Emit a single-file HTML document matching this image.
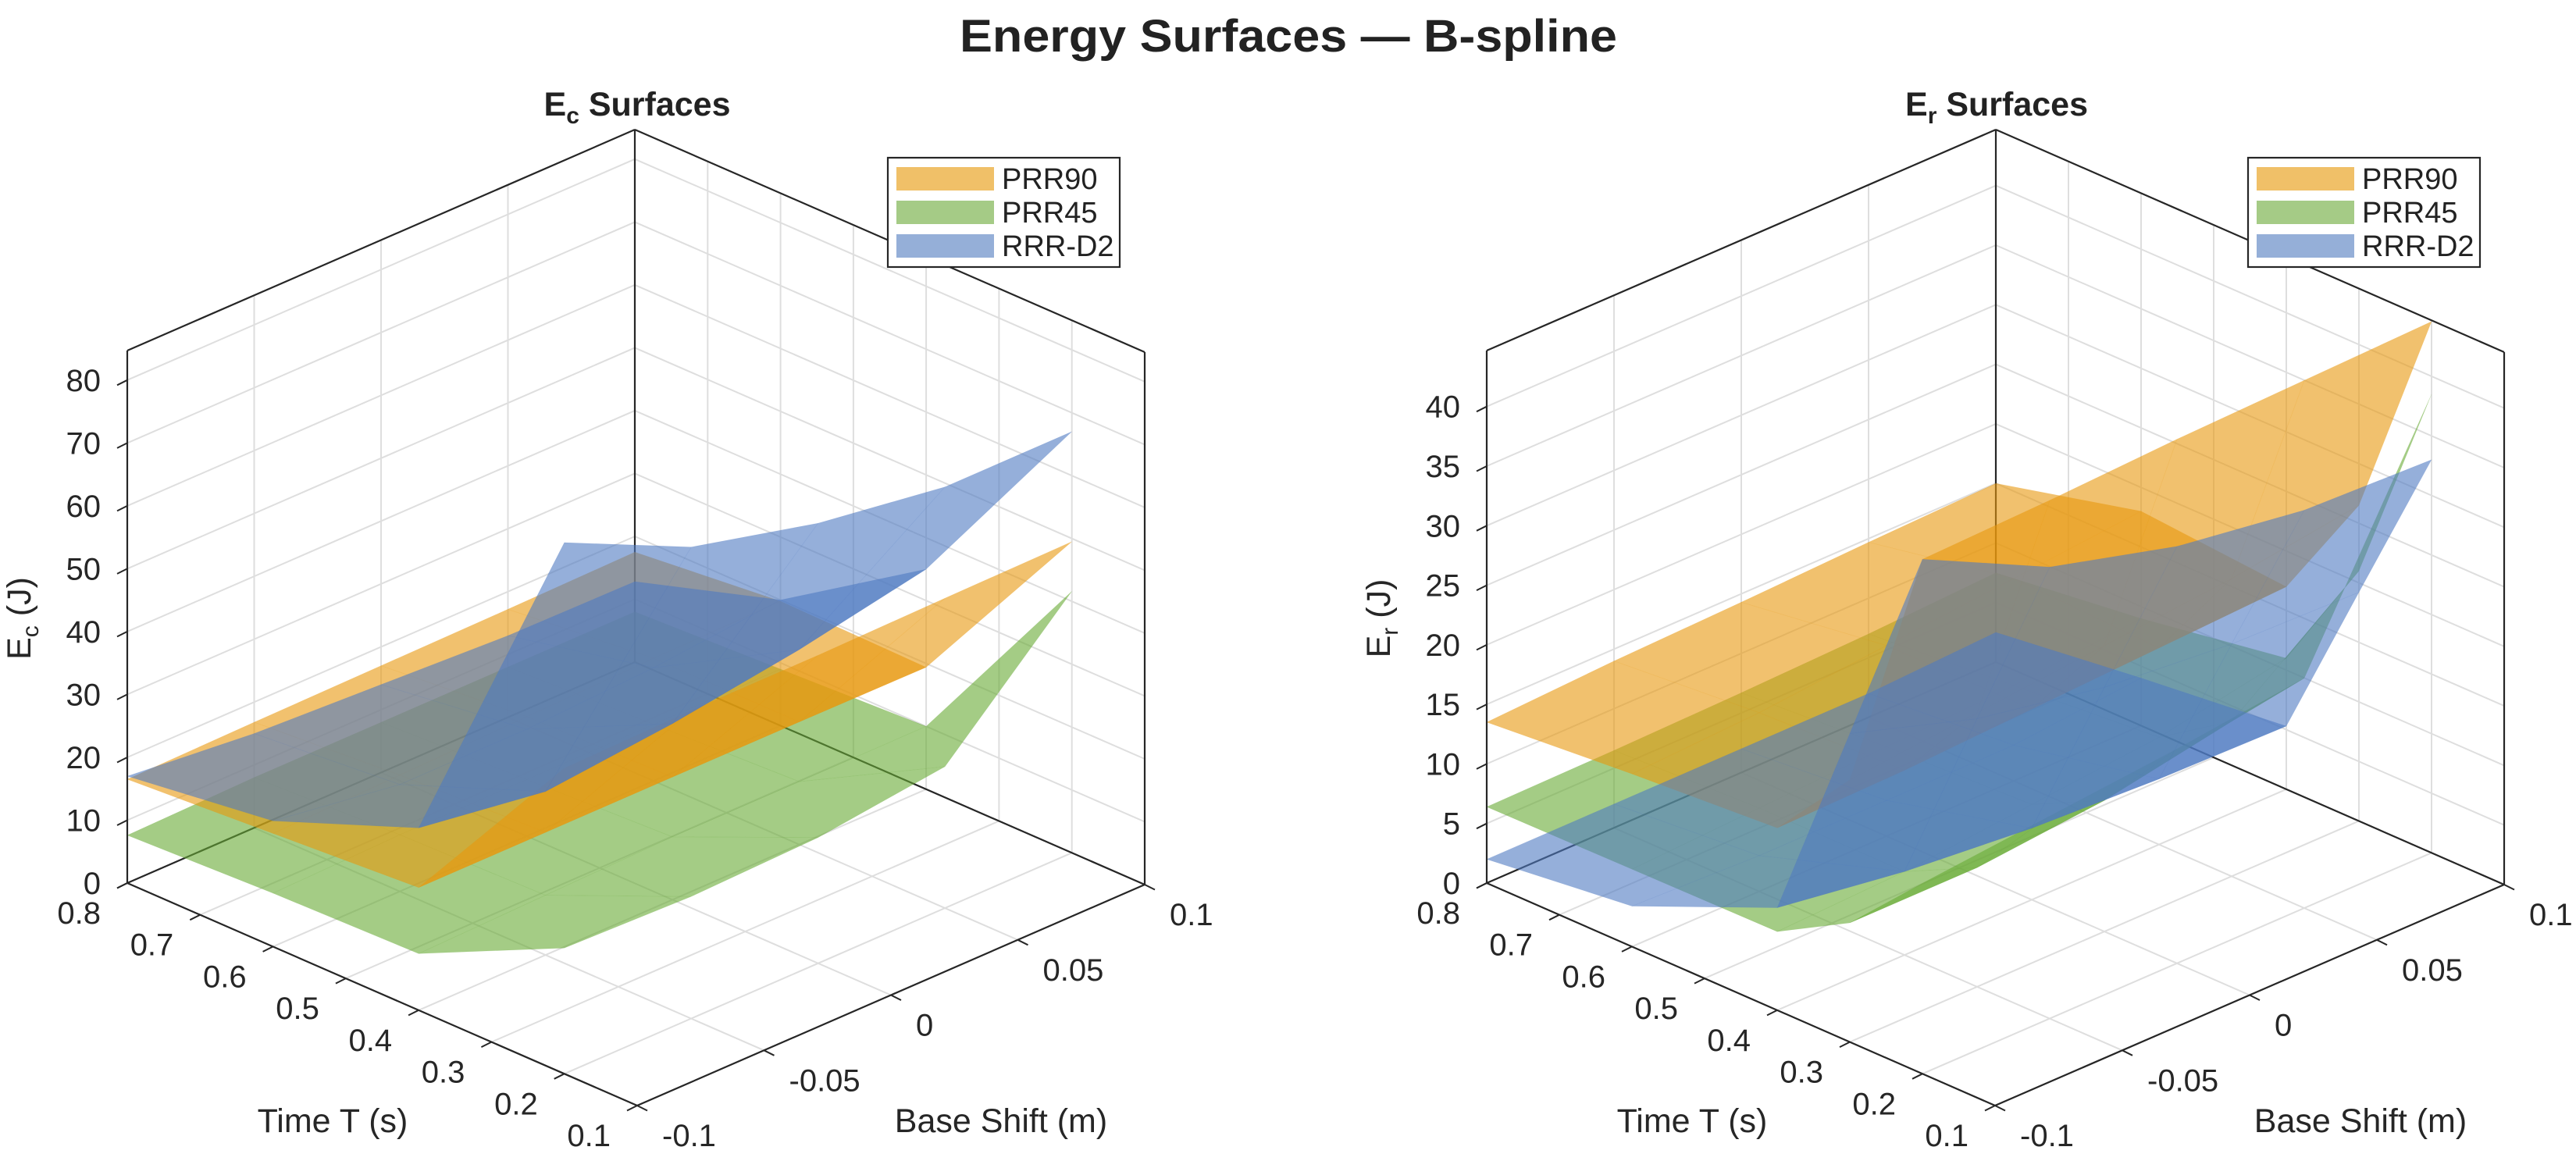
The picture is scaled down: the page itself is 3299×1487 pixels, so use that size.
<!DOCTYPE html>
<html><head><meta charset="utf-8"><style>
html,body{margin:0;padding:0;background:#fff;}
svg{display:block;font-family:"Liberation Sans",Arial,sans-serif;}
</style></head><body>
<svg id="fig" width="3299" height="1487" viewBox="0 0 3299 1487" xmlns="http://www.w3.org/2000/svg">
<rect width="3299" height="1487" fill="#fff"/>
<text x="1650" y="66" text-anchor="middle" font-size="58" font-weight="bold" fill="#222" textLength="842" lengthAdjust="spacingAndGlyphs">Energy Surfaces — B-spline</text>
<g id="plotL"></g>
<g id="plotR"></g>
</svg>
<script>
// ---- data ----
const ecTimeT = [0.8, 0.6, 0.4, 0.2];
const erTimeT = [0.8, 0.6, 0.4, 0.3, 0.2];
const shiftS = [-0.1, -0.05, 0, 0.05, 0.1];
const seriesNames = ["PRR90", "PRR45", "RRR-D2"];
const ecPRR90 = [[16.5,16.8,17,17.2,17.5],[18,18.5,19,19.5,19.8],[19.5,19.5,19.5,19.5,19.4],[48.6,49,49,49.3,49.5]];
const ecPRR45 = [[7.6,8,8,8,8],[8.5,9,9,9,9],[9,9.5,10,10,10],[20,19.4,20,22.5,41.6]];
const ecRRRD2 = [[17,15,14,13,12.8],[20,17,17,18,20],[29,26,28,31,35],[84.5,75,70,67,67]];
const erPRR90 = [[13.5,14,14.3,14.7,15],[14.5,15,16,17,18],[15.3,15.5,16,16.5,17],[22,23,24,25,26.5],[43.2,43.5,44,44.3,44.6]];
const erPRR45 = [[6.4,6.5,6.7,7,7.5],[6.5,7,7.5,8,9],[6.6,7,8,9,11],[10,10,11,13,21],[16,17,18,19.3,38.5]];
const erRRRD2 = [[2,2,2,2,2.5],[3.4,3,3,3,4],[8.6,7,6,5.5,5.3],[25.9,22.5,20.5,19.5,19.2],[43.2,37.9,35,33.4,33]];
const tTicks = [0.1,0.2,0.3,0.4,0.5,0.6,0.7,0.8];
const sTicks = [-0.1,-0.05,0,0.05,0.1];
const ecZTicks = [0,10,20,30,40,50,60,70,80];
const erZTicks = [0,5,10,15,20,25,30,35,40];

const NS = "http://www.w3.org/2000/svg";
const fills = ["rgb(232,152,14)", "rgb(104,170,52)", "rgb(78,121,193)"];
const legendFills = ["rgb(240,192,104)", "rgb(165,203,134)", "rgb(149,175,216)"];
const ALPHA = 0.6;

function mk(parent, tag, attrs) {
  const e = document.createElementNS(NS, tag);
  for (const k in attrs) e.setAttribute(k, attrs[k]);
  parent.appendChild(e);
  return e;
}

function buildPlot(g, cfg) {
  const {Lx, Ly, ux, uy, vx, vy, H, zmax} = cfg;
  const timeT = cfg.timeT;
  const uOf = T => (0.8 - T) / 0.7;
  const vOf = S => (S + 0.1) / 0.2;
  const P = (T, S, z) => {
    const u = uOf(T), v = vOf(S);
    return [Lx + ux*u + vx*v, Ly + uy*u + vy*v - z/zmax*H];
  };
  const line = (a, b, stroke, w, name) => {
    const l = mk(g, "line", {x1:a[0].toFixed(1), y1:a[1].toFixed(1), x2:b[0].toFixed(1), y2:b[1].toFixed(1), stroke:stroke, "stroke-width":w});
    
    
    return l;
  };
  const grid = "#dedede", axc = "#262626";
  tTicks.forEach(T => line(P(T,-0.1,0), P(T,0.1,0), grid, 2, 'floor-gridline-t'));
  sTicks.forEach(S => line(P(0.8,S,0), P(0.1,S,0), grid, 2, 'floor-gridline-s'));
  sTicks.forEach(S => line(P(0.8,S,0), P(0.8,S,zmax), grid, 2, 'back-wall-gridline-s'));
  cfg.zTicks.forEach(z => line(P(0.8,-0.1,z), P(0.8,0.1,z), grid, 2, 'back-wall-gridline-z'));
  tTicks.forEach(T => line(P(T,0.1,0), P(T,0.1,zmax), grid, 2, 'side-wall-gridline-t'));
  cfg.zTicks.forEach(z => line(P(0.8,0.1,z), P(0.1,0.1,z), grid, 2, 'side-wall-gridline-z'));
  line(P(0.8,-0.1,0), P(0.8,0.1,0), axc, 2.2, 'box-edge');
  line(P(0.8,0.1,0), P(0.1,0.1,0), axc, 2.2, 'box-edge');
  line(P(0.8,0.1,0), P(0.8,0.1,zmax), axc, 2.2, 'box-edge');
  line(P(0.8,-0.1,zmax), P(0.8,0.1,zmax), axc, 2.2, 'box-edge');
  line(P(0.8,0.1,zmax), P(0.1,0.1,zmax), axc, 2.2, 'box-edge');
  line(P(0.1,0.1,0), P(0.1,0.1,zmax), axc, 2.2, 'box-edge');
  cfg.order.forEach(si => {
    const Z = cfg.series[si];
    const sg = mk(g, "g", {});
    
    
    const quads = [];
    for (let i = 0; i < timeT.length - 1; i++) for (let j = 0; j < shiftS.length - 1; j++) {
      const pts = [[i,j],[i+1,j],[i+1,j+1],[i,j+1]];
      let close = 0;
      pts.forEach(([a,b]) => { close += (uOf(timeT[a]) - vOf(shiftS[b]))*571 + Z[a][b]/zmax*378; });
      quads.push({pts: pts.map(([a,b]) => P(timeT[a], shiftS[b], Z[a][b])), close: close/4});
    }
    quads.sort((a,b) => a.close - b.close);
    quads.forEach(q => {
      const p = mk(sg, "polygon", {points: q.pts.map(p => p[0].toFixed(1)+","+p[1].toFixed(1)).join(" "), fill: fills[si], "fill-opacity": ALPHA, stroke: fills[si], "stroke-opacity": 0.15, "stroke-width": 0.6});
      
      
    });
  });
  line(P(0.8,-0.1,0), P(0.1,-0.1,0), axc, 2.2, 't-axis-line');
  line(P(0.1,-0.1,0), P(0.1,0.1,0), axc, 2.2, 's-axis-line');
  line(P(0.8,-0.1,0), P(0.8,-0.1,zmax), axc, 2.2, 'z-axis-line');
  const tk = [-13, 6.5];
  cfg.zTicks.forEach((z, k) => {
    const a = P(0.8,-0.1,z);
    line(a, [a[0]+tk[0], a[1]+tk[1]], axc, 2, 'z-tick');
    const t = mk(g, "text", {x:(a[0]-34).toFixed(1), y:(a[1]+14).toFixed(1), "text-anchor":"end", "font-size":40, fill:"#262626"});
    t.textContent = cfg.zTicks[k];
    
    
  });
  tTicks.forEach(T => {
    const a = P(T,-0.1,0);
    line(a, [a[0]+tk[0], a[1]+tk[1]], axc, 2, 't-tick');
    const t = mk(g, "text", {x:(a[0]-34).toFixed(1), y:(a[1]+52).toFixed(1), "text-anchor":"end", "font-size":40, fill:"#262626"});
    t.textContent = T.toString();
    
    
  });
  sTicks.forEach(S => {
    const a = P(0.1,S,0);
    line(a, [a[0]+13, a[1]+6.5], axc, 2, 's-tick');
    const t = mk(g, "text", {x:(a[0]+32).toFixed(1), y:(a[1]+52).toFixed(1), "text-anchor":"start", "font-size":40, fill:"#262626"});
    t.textContent = S.toString();
    
    
  });
  let t = mk(g, "text", {x: Lx+263, y: 1450, "text-anchor":"middle", "font-size":43, fill:"#262626"});
  t.textContent = "Time T (s)";
  
  
  t = mk(g, "text", {x: Lx+1119, y: 1450, "text-anchor":"middle", "font-size":43, fill:"#262626"});
  t.textContent = "Base Shift (m)";
  
  
  t = mk(g, "text", {x: 0, y: 0, "text-anchor":"middle", "font-size":43, fill:"#262626", transform:`translate(${Lx-124},${792}) rotate(-90)`});
  t.innerHTML = cfg.zSym + '<tspan font-size="30" dy="10">' + cfg.zSub + '</tspan><tspan dy="-10">  (J)</tspan>';
  
  
  t = mk(g, "text", {x: Lx+653, y: 148, "text-anchor":"middle", "font-size":43, "font-weight":"bold", fill:"#222"});
  t.innerHTML = cfg.zSym + '<tspan font-size="30" dy="10">' + cfg.zSub + '</tspan><tspan dy="-10">  Surfaces</tspan>';
  
  
  const lx = cfg.legX, ly = 202;
  const lg = mk(g, "g", {});
  
  
  mk(lg, "rect", {x: lx, y: ly, width: 297, height: 140, fill: "#fff", stroke: "#262626", "stroke-width": 2.2});
  seriesNames.forEach((n, k) => {
    const r = mk(lg, "rect", {x: lx+11, y: ly+12+k*43, width: 125, height: 30, fill: legendFills[k]});
    
    
    const tx = mk(lg, "text", {x: lx+146, y: ly+40+k*43, "font-size": 38, fill: "#222"});
    tx.textContent = n;
    
    
  });
}

buildPlot(document.getElementById("plotL"), {
  Lx:163, Ly:1131, ux:653, uy:285, vx:650, vy:-283, H:682, zmax:84.7, timeT: ecTimeT, order:[1,0,2],
  zTicks: ecZTicks, series:[ecPRR90, ecPRR45, ecRRRD2], zSym:"E", zSub:"c", legX:1137
});
buildPlot(document.getElementById("plotR"), {
  Lx:1904, Ly:1131, ux:651, uy:285, vx:652, vy:-283, H:682, zmax:44.7, timeT: erTimeT, order:[1,0,2],
  zTicks: erZTicks, series:[erPRR90, erPRR45, erRRRD2], zSym:"E", zSub:"r", legX:2879
});
</script>
</body></html>
